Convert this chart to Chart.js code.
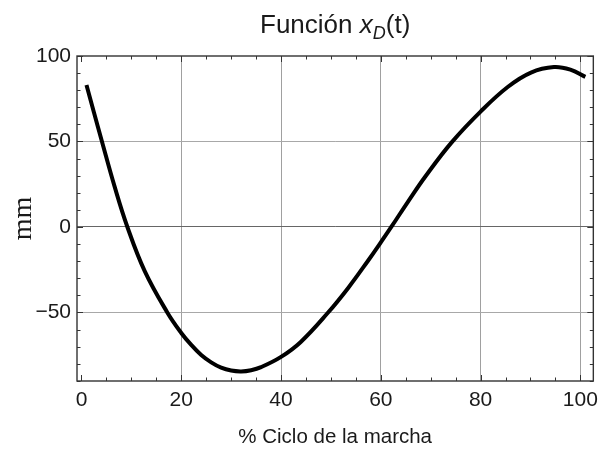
<!DOCTYPE html>
<html>
<head>
<meta charset="utf-8">
<script src="https://cdn.jsdelivr.net/npm/chart.js@4.4.1/dist/chart.umd.min.js"></script>
<style>
html, body { margin: 0; padding: 0; background: #fff; }
</style>
</head>
<body>
<canvas id="chart" width="605" height="450"></canvas>
<script>
// % of gait cycle and x_D(t) in mm
const cyclePct = [1, 2.5, 4.1, 6.6, 9.2, 12.7, 17.2, 20, 22, 24, 26, 28, 30, 32, 34, 36, 40, 43.9, 49.3, 53.5, 57.4, 60, 62.1, 65.5, 69, 74.2, 80, 85.5, 90.1, 94.7, 98, 101];
const xD = [83, 67, 50, 24, 0, -26, -50, -62, -69, -74.9, -79.2, -82.3, -84, -84.5, -83.8, -82, -76, -67.4, -50.5, -35.5, -19.9, -9, 0, 15, 29.8, 49.5, 67.5, 82, 90.3, 93.5, 92, 87.8];

const xLabelTicks = [0, 20, 40, 60, 80, 100];
const yLabelTicks = [-50, 0, 50, 100];
const xMinorStep = 5;
const yMinorStep = 10;

const sans = "'Liberation Sans', Arial, sans-serif";
const textColor = '#1a1a1a';

const framePlugin = {
    id: 'frame',
    afterDraw(chart) {
        const ctx = chart.ctx;
        const a = chart.chartArea;
        const x = chart.scales.x;
        const y = chart.scales.y;
        ctx.save();
        ctx.strokeStyle = '#333';
        ctx.lineWidth = 1.4;
        ctx.strokeRect(a.left, a.top, a.right - a.left, a.bottom - a.top);

        ctx.lineWidth = 1;
        ctx.beginPath();
        for (let v = 0; v <= 100; v += xMinorStep) {
            const px = Math.round(x.getPixelForValue(v)) + 0.5;
            const len = v % 20 === 0 ? 6 : 3.5;
            ctx.moveTo(px, a.bottom); ctx.lineTo(px, a.bottom - len);
            ctx.moveTo(px, a.top); ctx.lineTo(px, a.top + len);
        }
        for (let v = -90; v <= 100; v += yMinorStep) {
            const py = Math.round(y.getPixelForValue(v)) + 0.5;
            const len = v % 50 === 0 ? 6 : 3.5;
            ctx.moveTo(a.left, py); ctx.lineTo(a.left + len, py);
            ctx.moveTo(a.right, py); ctx.lineTo(a.right - len, py);
        }
        ctx.stroke();
        ctx.restore();
    }
};

// title "Función x_D(t)" with italic x and subscript D
const titlePlugin = {
    id: 'mathTitle',
    afterDraw(chart) {
        const ctx = chart.ctx;
        const a = chart.chartArea;
        const parts = [
            { text: 'Función ', font: "26px " + sans, dy: 0 },
            { text: 'x', font: "italic 26px " + sans, dy: 0 },
            { text: 'D', font: "italic 18px " + sans, dy: 6 },
            { text: '(t)', font: "26px " + sans, dy: 0 }
        ];
        ctx.save();
        ctx.fillStyle = textColor;
        ctx.textBaseline = 'alphabetic';
        ctx.textAlign = 'left';
        let total = 0;
        parts.forEach(p => {
            ctx.font = p.font;
            p.w = ctx.measureText(p.text).width;
            total += p.w;
        });
        let cx = (a.left + a.right) / 2 - total / 2;
        const base = 33;
        parts.forEach(p => {
            ctx.font = p.font;
            ctx.fillText(p.text, cx, base + p.dy);
            cx += p.w;
        });
        ctx.restore();
    }
};

const chart = new Chart(document.getElementById('chart'), {
    type: 'line',
    data: {
        datasets: [{
            data: cyclePct.map((v, i) => ({ x: v, y: xD[i] })),
            borderColor: '#000',
            borderWidth: 4,
            pointRadius: 0,
            tension: 0.4,
            fill: false
        }]
    },
    options: {
        responsive: false,
        animation: false,
        devicePixelRatio: 1,
        layout: { padding: { left: 0, right: 5, top: 56, bottom: 0 } },
        plugins: {
            legend: { display: false },
            tooltip: { enabled: false }
        },
        scales: {
            x: {
                type: 'linear',
                min: -0.9,
                max: 102.6,
                afterBuildTicks: s => { s.ticks = xLabelTicks.map(v => ({ value: v })); },
                afterFit: s => { s.height = 69; },
                grid: {
                    color: c => (c.tick && c.tick.value === 0) ? 'rgba(0,0,0,0)' : '#a0a0a0',
                    lineWidth: 1,
                    drawTicks: false
                },
                border: { display: false },
                ticks: {
                    padding: 7,
                    maxRotation: 0,
                    color: textColor,
                    font: { family: sans, size: 21 }
                },
                title: {
                    display: true,
                    text: '% Ciclo de la marcha',
                    color: textColor,
                    font: { family: sans, size: 20.5 },
                    padding: 0
                }
            },
            y: {
                type: 'linear',
                min: -90.1,
                max: 100,
                afterBuildTicks: s => { s.ticks = yLabelTicks.map(v => ({ value: v })); },
                afterFit: s => { s.width = 77; },
                grid: {
                    color: c => {
                        if (!c.tick) return '#a0a0a0';
                        if (c.tick.value === 100) return 'rgba(0,0,0,0)';
                        if (c.tick.value === 0) return '#666';
                        return '#a8a8a8';
                    },
                    lineWidth: 1,
                    drawTicks: false
                },
                border: { display: false },
                ticks: {
                    padding: 6,
                    color: textColor,
                    font: { family: sans, size: 21 },
                    callback: v => v < 0 ? '\u2212' + Math.abs(v) : String(v)
                },
                title: {
                    display: true,
                    text: 'mm',
                    color: textColor,
                    font: { family: "'Liberation Serif', 'Times New Roman', serif", size: 28 },
                    padding: { top: 7, bottom: 0 }
                }
            }
        }
    },
    plugins: [framePlugin, titlePlugin]
});
</script>
</body>
</html>
